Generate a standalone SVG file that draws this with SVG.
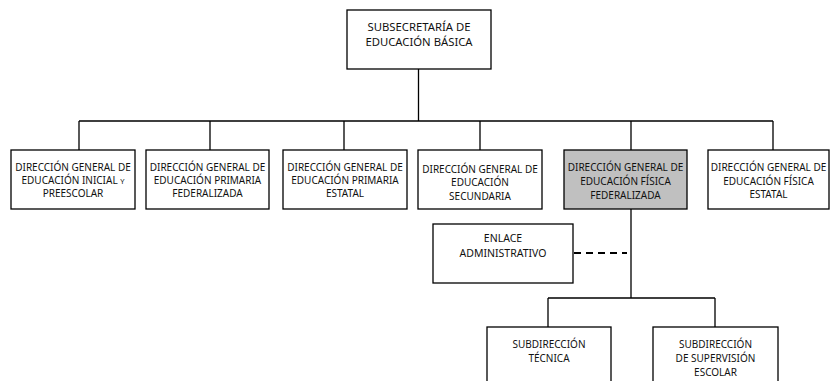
<svg xmlns="http://www.w3.org/2000/svg" width="831" height="381" viewBox="0 0 831 381">
<style>
.box{fill:#fff;stroke:#000;stroke-width:1.3}
.hl{fill:#c0c0c0}
.t{font-family:"Noto Sans","Open Sans",sans-serif;font-size:10px;fill:#111;text-anchor:middle}
.big{font-size:11.3px}
.mid{font-size:10.5px}
.ln{fill:none;stroke:#000;stroke-width:1.3}
.dash{fill:none;stroke:#000;stroke-width:2;stroke-dasharray:7 5}
</style>
<rect width="831" height="381" fill="#fff"/>
<g id="connectors">
<path class="ln" d="M418.5 69V121M79 121H773M79 121V150M210 121V150M344 121V150M480 121V150M631 121V150M773 121V150"/>
<path class="ln" d="M631 209V298M548 298H715M548 298V327M715 298V327"/>
<path class="dash" d="M574 253H627"/>
</g>
<g id="subsecretaria">
<rect class="box" x="347" y="10" width="144" height="59"/>
<text class="t big" x="419" y="31">SUBSECRETARÍA DE</text>
<text class="t big" x="419" y="46">EDUCACIÓN BÁSICA</text>
</g>
<g id="dg-inicial">
<rect class="box" x="11" y="150" width="124" height="59"/>
<text class="t" x="73" y="171">DIRECCIÓN GENERAL DE</text>
<text class="t" x="73" y="184">EDUCACIÓN INICIAL <tspan font-size="7.5">Y</tspan></text>
<text class="t" x="73" y="196.5">PREESCOLAR</text>
</g>
<g id="dg-primaria-fed">
<rect class="box" x="146" y="150" width="123" height="59"/>
<text class="t" x="207.5" y="171">DIRECCIÓN GENERAL DE</text>
<text class="t" x="207.5" y="184">EDUCACIÓN PRIMARIA</text>
<text class="t" x="207.5" y="196.5">FEDERALIZADA</text>
</g>
<g id="dg-primaria-est">
<rect class="box" x="283" y="150" width="124" height="59"/>
<text class="t" x="345" y="171">DIRECCIÓN GENERAL DE</text>
<text class="t" x="345" y="184">EDUCACIÓN PRIMARIA</text>
<text class="t" x="345" y="196.5">ESTATAL</text>
</g>
<g id="dg-secundaria">
<rect class="box" x="418" y="150" width="124" height="59"/>
<text class="t" x="480" y="173">DIRECCIÓN GENERAL DE</text>
<text class="t" x="480" y="186">EDUCACIÓN</text>
<text class="t" x="480" y="199.5">SECUNDARIA</text>
</g>
<g id="dg-fisica-fed">
<rect class="box hl" x="564" y="150" width="123" height="59"/>
<text class="t" x="625.5" y="171">DIRECCIÓN GENERAL DE</text>
<text class="t" x="625.5" y="185">EDUCACIÓN FÍSICA</text>
<text class="t" x="625.5" y="198.5">FEDERALIZADA</text>
</g>
<g id="dg-fisica-est">
<rect class="box" x="708" y="150" width="121" height="59"/>
<text class="t" x="768.5" y="171">DIRECCIÓN GENERAL DE</text>
<text class="t" x="768.5" y="185">EDUCACIÓN FÍSICA</text>
<text class="t" x="768.5" y="198">ESTATAL</text>
</g>
<g id="enlace">
<rect class="box" x="433" y="224" width="140" height="59"/>
<text class="t mid" x="503" y="241.5">ENLACE</text>
<text class="t mid" x="503" y="256.5">ADMINISTRATIVO</text>
</g>
<g id="sub-tecnica">
<rect class="box" x="487" y="327" width="124" height="70"/>
<text class="t" x="549" y="348">SUBDIRECCIÓN</text>
<text class="t" x="549" y="362">TÉCNICA</text>
</g>
<g id="sub-supervision">
<rect class="box" x="653" y="327" width="125" height="70"/>
<text class="t" x="715.5" y="348">SUBDIRECCIÓN</text>
<text class="t" x="715.5" y="362">DE SUPERVISIÓN</text>
<text class="t" x="715.5" y="375.5">ESCOLAR</text>
</g>
</svg>
